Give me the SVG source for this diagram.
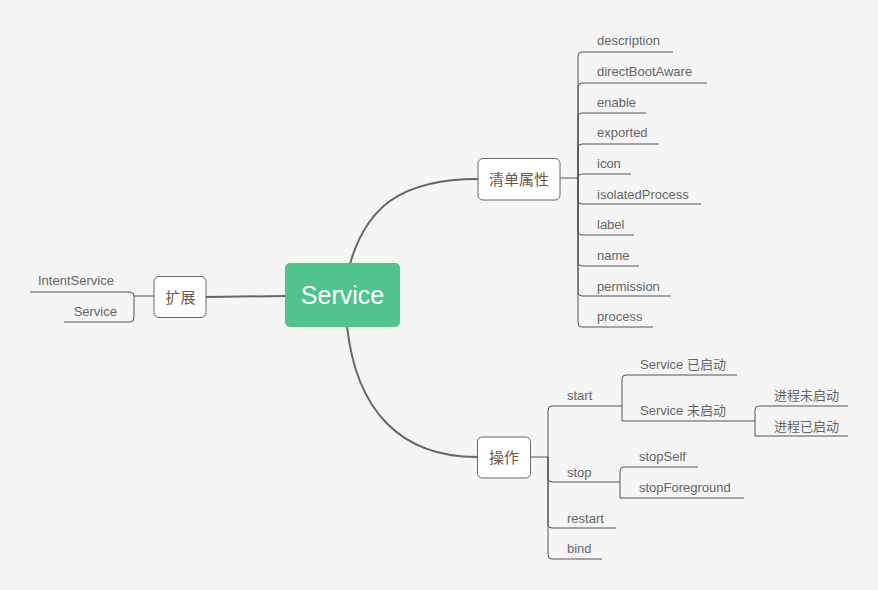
<svg xmlns="http://www.w3.org/2000/svg" width="878" height="590" viewBox="0 0 878 590">
<style>
.bg{fill:#f5f5f5}
.main{stroke:#666;stroke-width:2;fill:none}
.br{stroke:#555;stroke-width:1;fill:none}
.node{fill:#fff;stroke:#666;stroke-width:1}
.nt{font-family:"Noto Sans CJK SC","Liberation Sans",sans-serif;font-size:15px;fill:#6e5744;text-anchor:middle}
.lt{font-family:"Liberation Sans","Noto Sans CJK SC",sans-serif;font-size:13px;fill:#666}
.ct{font-family:"Liberation Sans","Noto Sans CJK SC",sans-serif;font-size:13px;fill:#666}
</style>
<rect class="bg" x="0" y="0" width="878" height="590"/>
<g id="connectors">
<path class="main" d="M350,264 C366,208 400,179 478,179"/>
<path class="main" d="M347,326 C356,410 400,457 477,457"/>
<path class="main" d="M206,297 L285,296"/>
<!-- 扩展 children -->
<path class="br" d="M154,296 H134"/>
<path class="br" d="M134,296 Q134,292 130,292 H30"/>
<path class="br" d="M134,296 V318 Q134,322 130,322 H64"/>
<!-- 清单属性 children -->
<path class="br" d="M560,178 H578"/>
<path class="br" d="M578,178 V56 Q578,52 582,52 H673"/>
<path class="br" d="M578,178 V87 Q578,83 582,83 H707"/>
<path class="br" d="M578,178 V117 Q578,113 582,113 H646"/>
<path class="br" d="M578,178 V148 Q578,144 582,144 H659"/>
<path class="br" d="M578,178 Q578,174 582,174 H631"/>
<path class="br" d="M578,178 V200 Q578,204 582,204 H701"/>
<path class="br" d="M578,178 V231 Q578,235 582,235 H634"/>
<path class="br" d="M578,178 V262 Q578,266 582,266 H639"/>
<path class="br" d="M578,178 V292 Q578,296 582,296 H671"/>
<path class="br" d="M578,178 V323 Q578,327 582,327 H653"/>
<!-- 操作 children -->
<path class="br" d="M530,457 H548"/>
<path class="br" d="M548,457 V410 Q548,406 552,406 H622"/>
<path class="br" d="M548,457 V478 Q548,482 552,482 H620"/>
<path class="br" d="M548,457 V524 Q548,528 552,528 H616"/>
<path class="br" d="M548,457 V555 Q548,559 552,559 H602"/>
<!-- start children -->
<path class="br" d="M622,406 V379 Q622,375 626,375 H737"/>
<path class="br" d="M622,406 V421 H755"/>
<!-- Service 未启动 children -->
<path class="br" d="M755,421 V410 Q755,406 759,406 H848"/>
<path class="br" d="M755,421 V436 H848"/>
<!-- stop children -->
<path class="br" d="M620,482 V471 Q620,467 624,467 H698"/>
<path class="br" d="M620,482 V498 H744"/>
</g>
<g id="service">
<rect x="285" y="263" width="115" height="64" rx="5" fill="#50c48c"/>
<text x="342.5" y="304" font-family="Liberation Sans,sans-serif" font-size="25" fill="#fff" text-anchor="middle">Service</text>
</g>
<g id="manifest">
<rect class="node" x="478" y="158.5" width="82" height="41.5" rx="5"/>
<text class="nt" x="519" y="185">清单属性</text>
</g>
<g id="extend">
<rect class="node" x="154" y="276.5" width="52" height="41" rx="5"/>
<text class="nt" x="180.5" y="302.5">扩展</text>
</g>
<g id="ops">
<rect class="node" x="477.5" y="437" width="53" height="41" rx="5"/>
<text class="nt" x="504" y="463">操作</text>
</g>
<g id="ext-children">
<text class="lt" x="38" y="285">IntentService</text>
<text class="lt" x="117" y="316" text-anchor="end">Service</text>
</g>
<g id="manifest-children">
<text class="lt" x="597" y="45">description</text>
<text class="lt" x="597" y="76">directBootAware</text>
<text class="lt" x="597" y="107">enable</text>
<text class="lt" x="597" y="137">exported</text>
<text class="lt" x="597" y="168">icon</text>
<text class="lt" x="597" y="199">isolatedProcess</text>
<text class="lt" x="597" y="229">label</text>
<text class="lt" x="597" y="260">name</text>
<text class="lt" x="597" y="291">permission</text>
<text class="lt" x="597" y="321">process</text>
</g>
<g id="ops-children">
<text class="lt" x="567" y="400">start</text>
<text class="lt" x="567" y="477">stop</text>
<text class="lt" x="567" y="523">restart</text>
<text class="lt" x="567" y="553">bind</text>
<text class="ct" x="640" y="369">Service 已启动</text>
<text class="ct" x="640" y="415">Service 未启动</text>
<text class="ct" x="774" y="400">进程未启动</text>
<text class="ct" x="774" y="431">进程已启动</text>
<text class="lt" x="639" y="461">stopSelf</text>
<text class="lt" x="639" y="492">stopForeground</text>
</g>
</svg>
